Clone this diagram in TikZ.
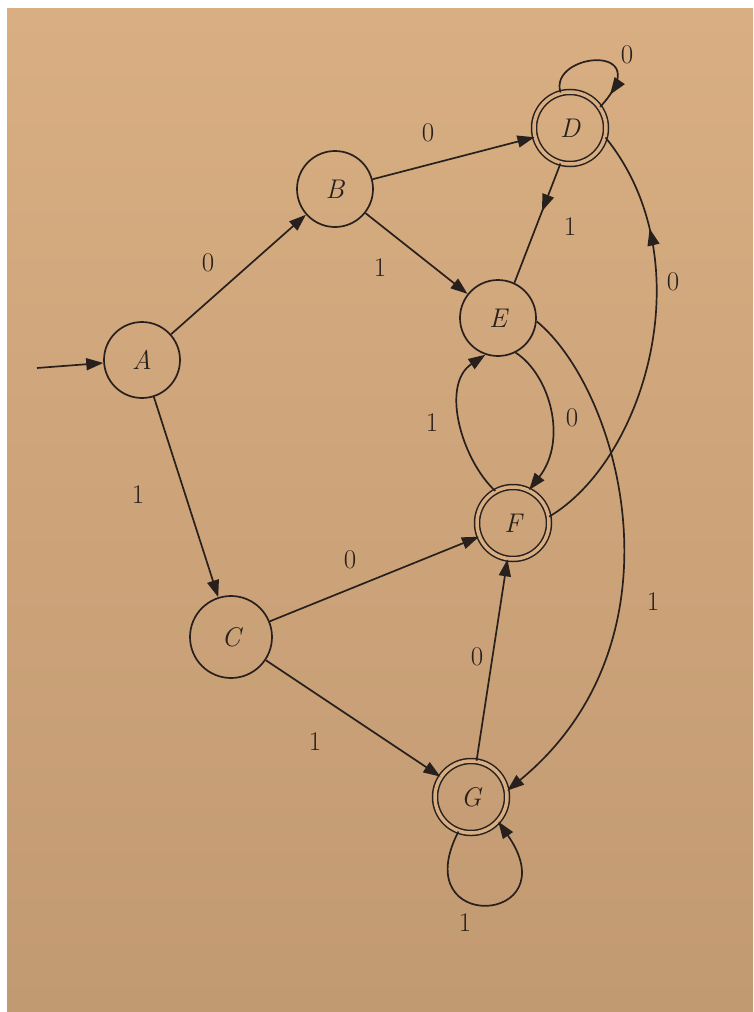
\documentclass[tikz,border=0pt]{standalone}
\usetikzlibrary{arrows.meta,decorations.markings}
\definecolor{paper}{RGB}{216,174,130}
\definecolor{paperdark}{RGB}{194,154,114}
\definecolor{ink}{RGB}{40,32,28}
\tikzset{
  state/.style={circle, draw=ink, line width=1.7pt, minimum size=76pt, inner sep=0pt,
    font=\fontsize{27}{30}\selectfont\itshape, text=ink},
  accept/.style={state, double=paper, double distance=3.5pt, line width=1.5pt, minimum size=72pt},
  edge/.style={draw=ink, line width=1.7pt, -{Triangle[length=17pt,width=12pt]}},
  plain/.style={draw=ink, line width=1.7pt},
  midarrow/.style={plain, postaction={decorate}, decoration={markings,
    mark=at position #1 with {\arrow[ink]{Triangle[length=17pt,width=12pt]}}}},
  lbl/.style={font=\fontsize{27}{30}\selectfont, text=ink, inner sep=0pt}
}
\begin{document}
\begin{tikzpicture}[x=1pt,y=-1pt]
\useasboundingbox (0,0) rectangle (753,1012);
\fill[white] (0,0) rectangle (753,1012);
\shade[top color=paper, bottom color=paperdark] (7,8) rectangle (753,1012);

% states
\node[state]  (A) at (142,360) {A};
\node[state]  (B) at (335,189) {B};
\node[accept] (D) at (570,128) {D};
\node[state]  (E) at (498,318) {E};
\node[accept] (F) at (513,523) {F};
\node[state, minimum size=82pt] (C) at (231,637) {C};
\node[accept] (G) at (471,797) {G};

% start
\coordinate (s) at (37,368);
\draw[edge] (s) -- (A);

% straight transitions
\draw[edge] (A) -- (B);
\draw[edge] (A) -- (C);
\draw[edge] (B) -- (D);
\draw[edge] (B) -- (E);
\draw[edge] (C) -- (F);
\draw[edge] (C) -- (G);
\draw[edge] (G) -- (F);
\draw[midarrow=0.4] (D.-105) -- (E.65);

% curved transitions
\draw[midarrow=0.87] (D.105) .. controls (548,52) and (660,42) .. (D.35);
\draw[edge] (G.250) .. controls (405,935) and (570,925) .. (G.318);
\draw[midarrow=0.76] (F.10) .. controls (645,460) and (705,260) .. (D.-15);
\draw[edge] (E.-63) .. controls (550,375) and (568,440) .. (F.64);
\draw[edge] (F.119) .. controls (462,460) and (440,385) .. (E.-109);
\draw[edge] (E.-5) .. controls (620,390) and (690,640) .. (G.10);

% labels
\node[lbl] (lAB) at (208,263) {0};
\node[lbl] (lAC) at (138,495) {1};
\node[lbl] (lBD) at (428,133) {0};
\node[lbl] (lBE) at (380,268) {1};
\node[lbl] (lDD) at (627,55) {0};
\node[lbl] (lDE) at (570,227) {1};
\node[lbl] (lFD) at (673,282) {0};
\node[lbl] (lEF) at (572,418) {0};
\node[lbl] (lFE) at (432,423) {1};
\node[lbl] (lCF) at (350,560) {0};
\node[lbl] (lEG) at (653,602) {1};
\node[lbl] (lGF) at (477,657) {0};
\node[lbl] (lCG) at (315,742) {1};
\node[lbl] (lGG) at (465,923) {1};
\end{tikzpicture}
\end{document}
